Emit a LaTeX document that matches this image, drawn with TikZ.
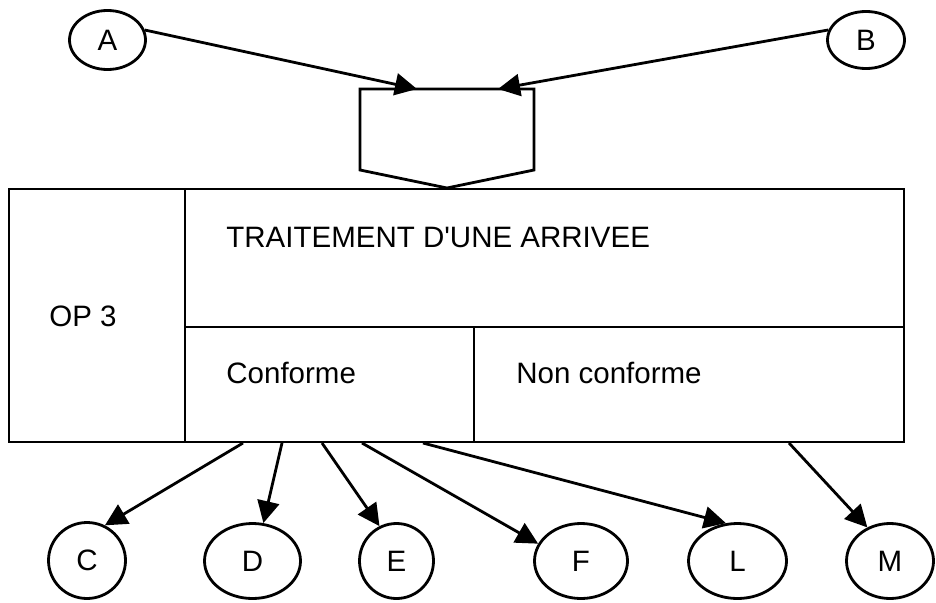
\documentclass[tikz,border=0pt]{standalone}
\usepackage{fontspec}
\setmainfont{Liberation Sans}[Ligatures=TeXOff]
\usetikzlibrary{shapes.geometric,arrows.meta}
\begin{document}
\begin{tikzpicture}[x=1pt,y=-1pt, line width=2.8pt,
  ell/.style={draw, ellipse, inner sep=0pt, font=\fontsize{29.5}{34}\selectfont},
  lbl/.style={anchor=base west, inner sep=0pt, font=\fontsize{29.5}{34}\selectfont},
  arr/.style={-{Triangle[length=22pt,width=22pt]}, line width=2.8pt}]
\useasboundingbox (0,0) rectangle (936,602);
% top ellipses
\node[ell, minimum width=76pt, minimum height=59pt] (A) at (107.5,40) {A};
\node[ell, minimum width=77pt, minimum height=57pt] (B) at (866,40) {B};
% pentagon connector
\coordinate (p1) at (360,89);
\coordinate (p2) at (534,89);
\coordinate (p3) at (534,170);
\coordinate (p4) at (447,188);
\coordinate (p5) at (360,170);
\draw[line join=miter] (p1) -- (p2) -- (p3) -- (p4) -- (p5) -- cycle;
\coordinate (pA) at (417,89);
\coordinate (pB) at (498,89);
% main box
\node[draw, minimum width=895pt, minimum height=253pt, inner sep=0pt] (main) at (456.5,315.5) {};
\draw (185,188) -- (185,443);
\draw (185,327) -- (905,327);
\draw (474,327) -- (474,443);
\node[lbl] (t1) at (225,247) {TRAITEMENT D'UNE ARRIVEE};
\node[lbl] (op) at (48,326) {OP 3};
\node[lbl] (conf) at (225,383) {Conforme};
\node[lbl] (nconf) at (515,383) {Non conforme};
% bottom ellipses
\node[ell, minimum width=77pt, minimum height=76pt] (C) at (87,560.5) {C};
\node[ell, minimum width=96pt, minimum height=75pt] (D) at (252.5,561) {D};
\node[ell, minimum width=74pt, minimum height=75pt] (E) at (396.5,561) {E};
\node[ell, minimum width=93pt, minimum height=75pt] (F) at (581,561) {F};
\node[ell, minimum width=98pt, minimum height=75pt] (L) at (737.5,561) {L};
\node[ell, minimum width=87pt, minimum height=75pt] (M) at (890,561) {M};
% start points on box bottom
\coordinate (sC) at (243,443);
\coordinate (sD) at (282,443);
\coordinate (sE) at (322,443);
\coordinate (sF) at (362,443);
\coordinate (sL) at (423,443);
\coordinate (sM) at (789,443);
% arrows
\draw[arr] (A.15) -- (pA);
\draw[arr] (B.165) -- (pB);
\draw[arr] (sC) -- (C.63);
\draw[arr] (sD) -- (D.74);
\draw[arr] (sE) -- (E.116);
\draw[arr] (sF) -- (F.158);
\draw[arr] (sL) -- (L.107);
\draw[arr] (sM) -- (M.124);
\end{tikzpicture}
\end{document}
